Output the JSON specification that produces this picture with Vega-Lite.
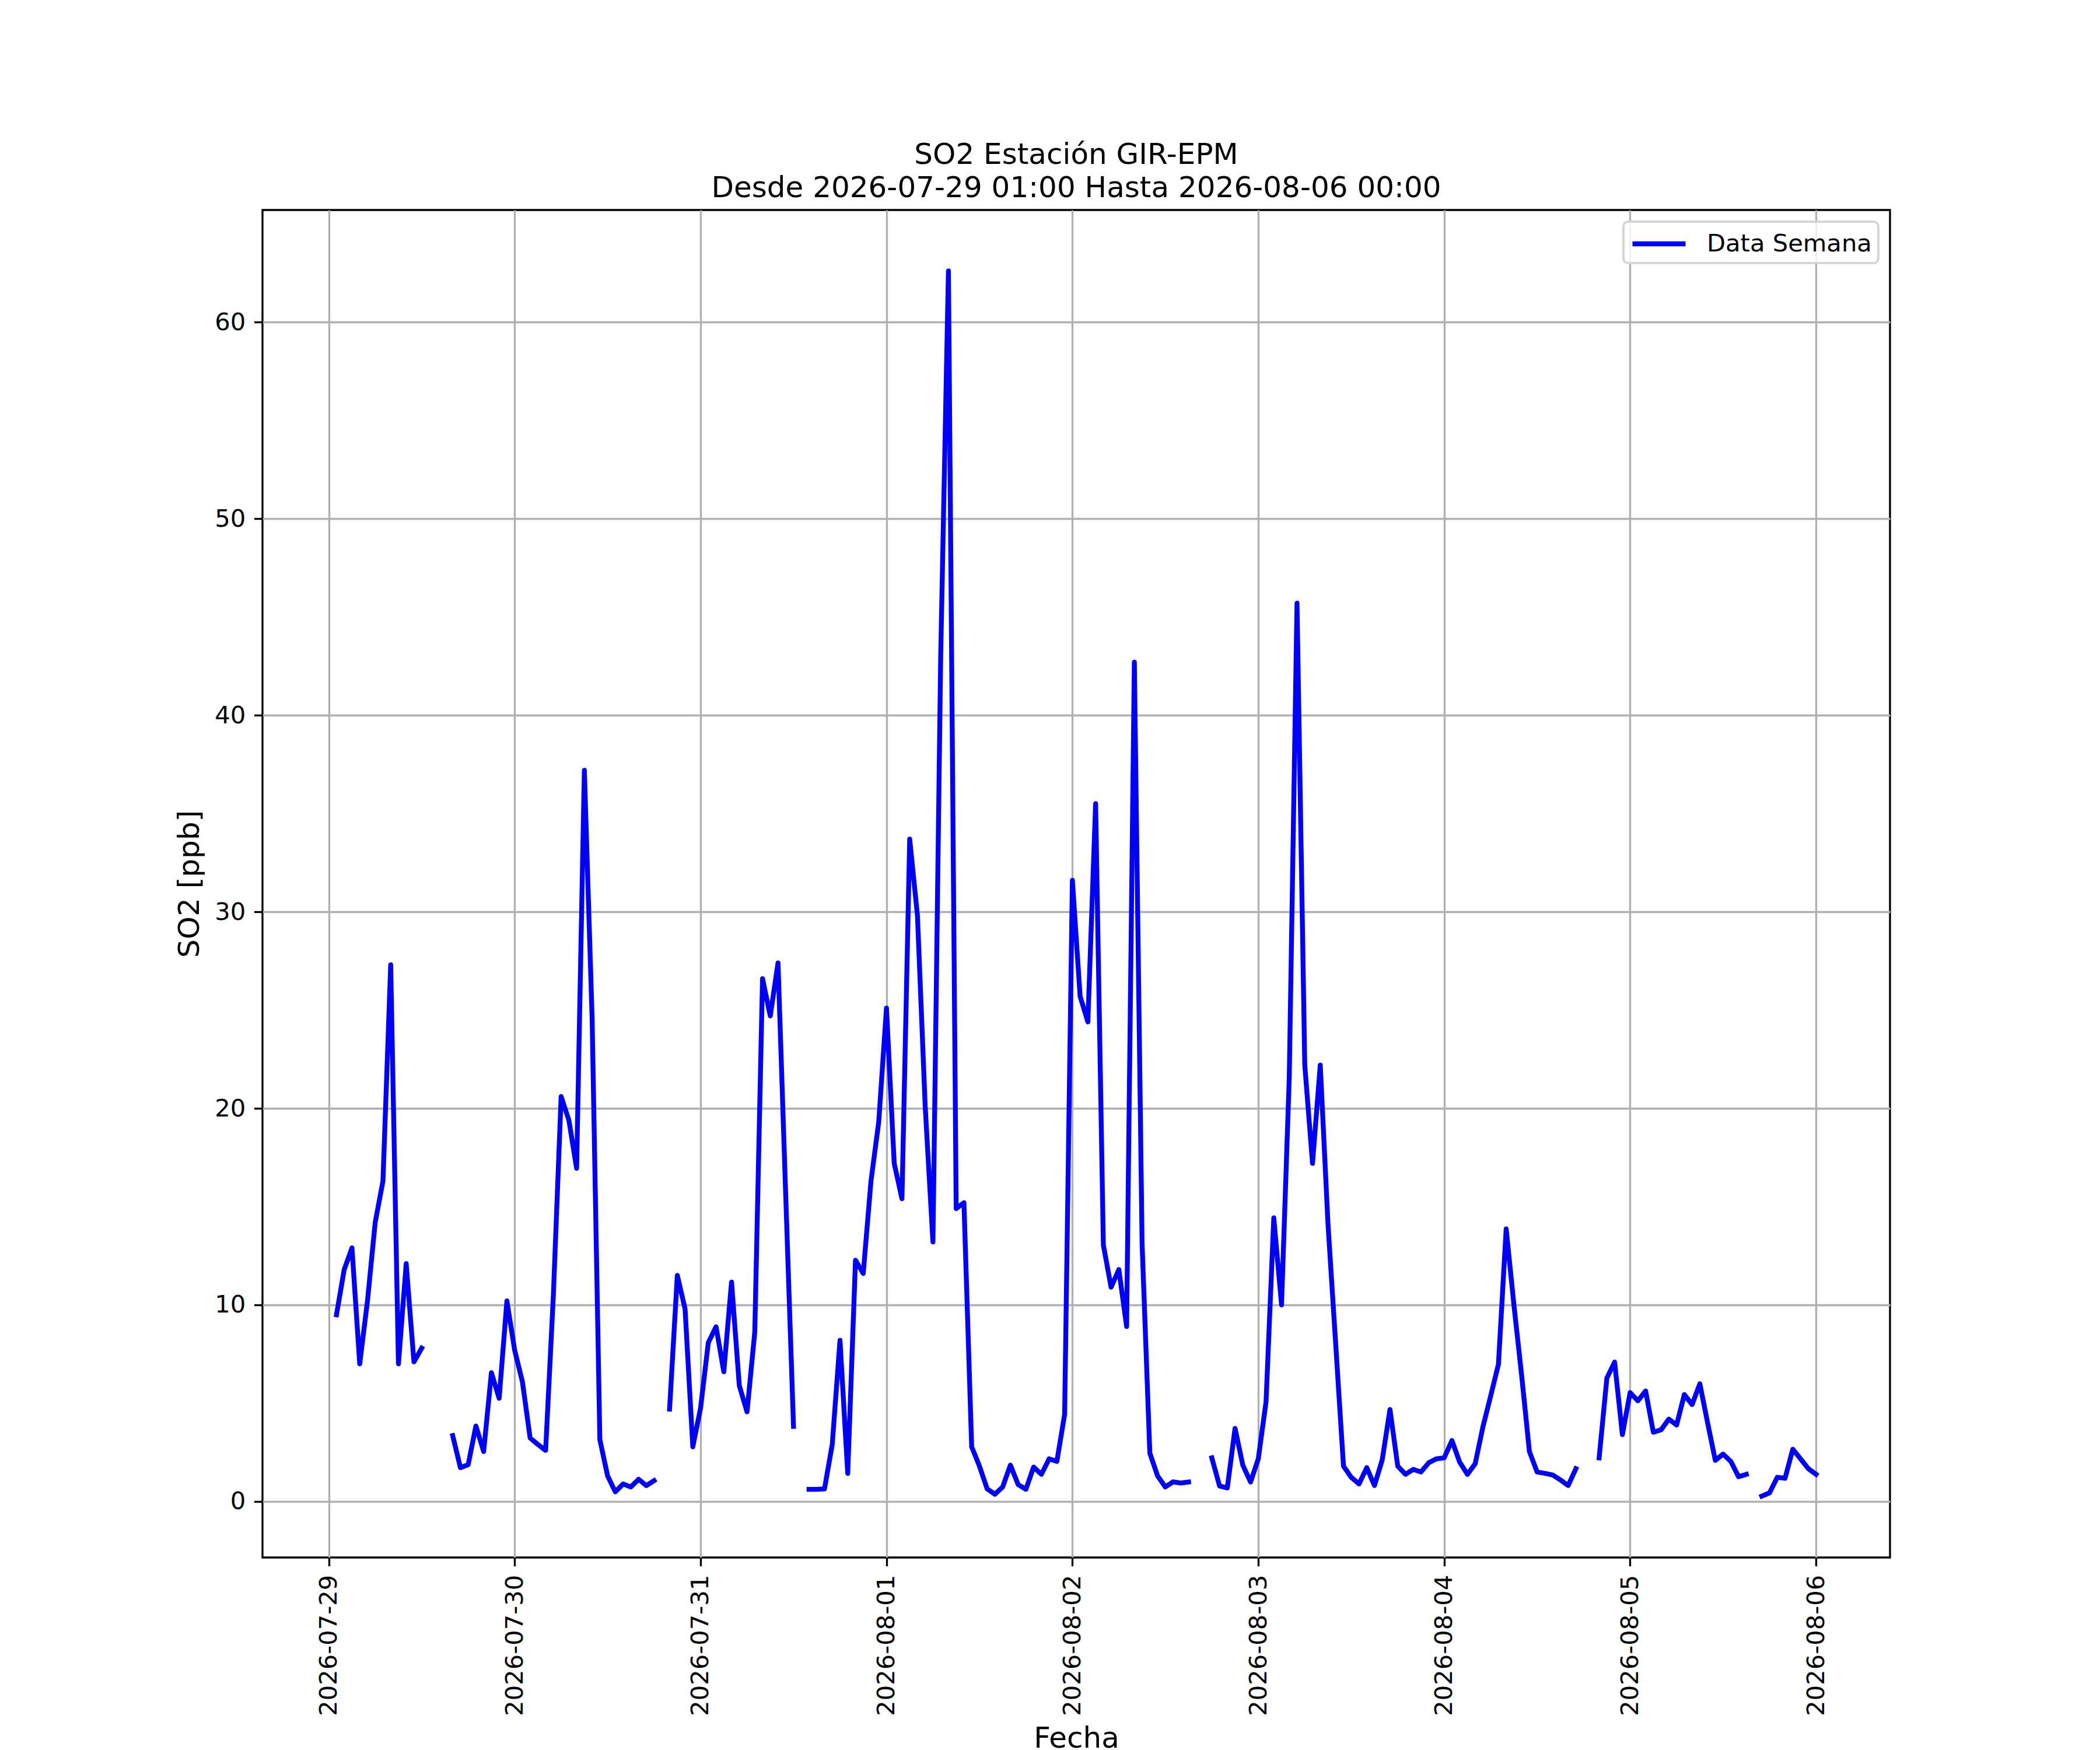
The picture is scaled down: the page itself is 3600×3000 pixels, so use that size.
{
  "$schema": "https://vega.github.io/schema/vega-lite/v6.json",
  "width": 2790,
  "height": 2310,
  "autosize": {"type": "none"},
  "padding": {"left": 450, "top": 360, "right": 360, "bottom": 330},
  "background": "#ffffff",
  "config": {
    "view": {"stroke": "#000000", "strokeWidth": 3.33},
    "font": "DejaVu Sans",
    "legend": {"strokeWidth": 4}
  },
  "title": {
    "text": ["SO2 Estación GIR-EPM", "Desde 2026-07-29 01:00 Hasta 2026-08-06 00:00"],
    "font": "DejaVu Sans",
    "fontSize": 50,
    "fontWeight": "normal",
    "color": "#000000",
    "lineHeight": 57,
    "anchor": "middle",
    "frame": "group",
    "baseline": "bottom",
    "offset": -38
  },
  "data": {
    "values": [
      {"fecha": "2026-07-29T01:00", "so2": 9.5},
      {"fecha": "2026-07-29T02:00", "so2": 11.8},
      {"fecha": "2026-07-29T03:00", "so2": 12.9},
      {"fecha": "2026-07-29T04:00", "so2": 7.0},
      {"fecha": "2026-07-29T05:00", "so2": 10.2},
      {"fecha": "2026-07-29T06:00", "so2": 14.2},
      {"fecha": "2026-07-29T07:00", "so2": 16.3},
      {"fecha": "2026-07-29T08:00", "so2": 27.3},
      {"fecha": "2026-07-29T09:00", "so2": 7.0},
      {"fecha": "2026-07-29T10:00", "so2": 12.1},
      {"fecha": "2026-07-29T11:00", "so2": 7.1},
      {"fecha": "2026-07-29T12:00", "so2": 7.8},
      {"fecha": "2026-07-29T13:00", "so2": null},
      {"fecha": "2026-07-29T14:00", "so2": null},
      {"fecha": "2026-07-29T15:00", "so2": null},
      {"fecha": "2026-07-29T16:00", "so2": 3.35},
      {"fecha": "2026-07-29T17:00", "so2": 1.72},
      {"fecha": "2026-07-29T18:00", "so2": 1.87},
      {"fecha": "2026-07-29T19:00", "so2": 3.84},
      {"fecha": "2026-07-29T20:00", "so2": 2.54},
      {"fecha": "2026-07-29T21:00", "so2": 6.55},
      {"fecha": "2026-07-29T22:00", "so2": 5.25},
      {"fecha": "2026-07-29T23:00", "so2": 10.2},
      {"fecha": "2026-07-30T00:00", "so2": 7.7},
      {"fecha": "2026-07-30T01:00", "so2": 6.1},
      {"fecha": "2026-07-30T02:00", "so2": 3.23},
      {"fecha": "2026-07-30T03:00", "so2": 2.9},
      {"fecha": "2026-07-30T04:00", "so2": 2.6},
      {"fecha": "2026-07-30T05:00", "so2": 10.5},
      {"fecha": "2026-07-30T06:00", "so2": 20.6},
      {"fecha": "2026-07-30T07:00", "so2": 19.4},
      {"fecha": "2026-07-30T08:00", "so2": 16.95},
      {"fecha": "2026-07-30T09:00", "so2": 37.2},
      {"fecha": "2026-07-30T10:00", "so2": 24.6},
      {"fecha": "2026-07-30T11:00", "so2": 3.15},
      {"fecha": "2026-07-30T12:00", "so2": 1.3},
      {"fecha": "2026-07-30T13:00", "so2": 0.49},
      {"fecha": "2026-07-30T14:00", "so2": 0.89},
      {"fecha": "2026-07-30T15:00", "so2": 0.74},
      {"fecha": "2026-07-30T16:00", "so2": 1.13},
      {"fecha": "2026-07-30T17:00", "so2": 0.81},
      {"fecha": "2026-07-30T18:00", "so2": 1.06},
      {"fecha": "2026-07-30T19:00", "so2": null},
      {"fecha": "2026-07-30T20:00", "so2": 4.7},
      {"fecha": "2026-07-30T21:00", "so2": 11.5},
      {"fecha": "2026-07-30T22:00", "so2": 9.8},
      {"fecha": "2026-07-30T23:00", "so2": 2.78},
      {"fecha": "2026-07-31T00:00", "so2": 4.75},
      {"fecha": "2026-07-31T01:00", "so2": 8.08},
      {"fecha": "2026-07-31T02:00", "so2": 8.89},
      {"fecha": "2026-07-31T03:00", "so2": 6.6},
      {"fecha": "2026-07-31T04:00", "so2": 11.16},
      {"fecha": "2026-07-31T05:00", "so2": 5.9},
      {"fecha": "2026-07-31T06:00", "so2": 4.56},
      {"fecha": "2026-07-31T07:00", "so2": 8.62},
      {"fecha": "2026-07-31T08:00", "so2": 26.6},
      {"fecha": "2026-07-31T09:00", "so2": 24.7},
      {"fecha": "2026-07-31T10:00", "so2": 27.4},
      {"fecha": "2026-07-31T11:00", "so2": 15.5},
      {"fecha": "2026-07-31T12:00", "so2": 3.82},
      {"fecha": "2026-07-31T13:00", "so2": null},
      {"fecha": "2026-07-31T14:00", "so2": 0.62},
      {"fecha": "2026-07-31T15:00", "so2": 0.62},
      {"fecha": "2026-07-31T16:00", "so2": 0.64},
      {"fecha": "2026-07-31T17:00", "so2": 2.9},
      {"fecha": "2026-07-31T18:00", "so2": 8.2},
      {"fecha": "2026-07-31T19:00", "so2": 1.43},
      {"fecha": "2026-07-31T20:00", "so2": 12.27},
      {"fecha": "2026-07-31T21:00", "so2": 11.6},
      {"fecha": "2026-07-31T22:00", "so2": 16.3},
      {"fecha": "2026-07-31T23:00", "so2": 19.3},
      {"fecha": "2026-08-01T00:00", "so2": 25.1},
      {"fecha": "2026-08-01T01:00", "so2": 17.2},
      {"fecha": "2026-08-01T02:00", "so2": 15.4},
      {"fecha": "2026-08-01T03:00", "so2": 33.7},
      {"fecha": "2026-08-01T04:00", "so2": 29.8},
      {"fecha": "2026-08-01T05:00", "so2": 20.1},
      {"fecha": "2026-08-01T06:00", "so2": 13.2},
      {"fecha": "2026-08-01T07:00", "so2": 43.0},
      {"fecha": "2026-08-01T08:00", "so2": 62.6},
      {"fecha": "2026-08-01T09:00", "so2": 14.9},
      {"fecha": "2026-08-01T10:00", "so2": 15.2},
      {"fecha": "2026-08-01T11:00", "so2": 2.78},
      {"fecha": "2026-08-01T12:00", "so2": 1.8},
      {"fecha": "2026-08-01T13:00", "so2": 0.64},
      {"fecha": "2026-08-01T14:00", "so2": 0.37},
      {"fecha": "2026-08-01T15:00", "so2": 0.74},
      {"fecha": "2026-08-01T16:00", "so2": 1.85},
      {"fecha": "2026-08-01T17:00", "so2": 0.86},
      {"fecha": "2026-08-01T18:00", "so2": 0.62},
      {"fecha": "2026-08-01T19:00", "so2": 1.75},
      {"fecha": "2026-08-01T20:00", "so2": 1.38},
      {"fecha": "2026-08-01T21:00", "so2": 2.17},
      {"fecha": "2026-08-01T22:00", "so2": 2.04},
      {"fecha": "2026-08-01T23:00", "so2": 4.43},
      {"fecha": "2026-08-02T00:00", "so2": 31.6},
      {"fecha": "2026-08-02T01:00", "so2": 25.7},
      {"fecha": "2026-08-02T02:00", "so2": 24.4},
      {"fecha": "2026-08-02T03:00", "so2": 35.5},
      {"fecha": "2026-08-02T04:00", "so2": 13.05},
      {"fecha": "2026-08-02T05:00", "so2": 10.9},
      {"fecha": "2026-08-02T06:00", "so2": 11.8},
      {"fecha": "2026-08-02T07:00", "so2": 8.9},
      {"fecha": "2026-08-02T08:00", "so2": 42.7},
      {"fecha": "2026-08-02T09:00", "so2": 13.1},
      {"fecha": "2026-08-02T10:00", "so2": 2.46},
      {"fecha": "2026-08-02T11:00", "so2": 1.3},
      {"fecha": "2026-08-02T12:00", "so2": 0.74},
      {"fecha": "2026-08-02T13:00", "so2": 1.0},
      {"fecha": "2026-08-02T14:00", "so2": 0.94},
      {"fecha": "2026-08-02T15:00", "so2": 0.99},
      {"fecha": "2026-08-02T16:00", "so2": null},
      {"fecha": "2026-08-02T17:00", "so2": null},
      {"fecha": "2026-08-02T18:00", "so2": 2.22},
      {"fecha": "2026-08-02T19:00", "so2": 0.79},
      {"fecha": "2026-08-02T20:00", "so2": 0.69},
      {"fecha": "2026-08-02T21:00", "so2": 3.72},
      {"fecha": "2026-08-02T22:00", "so2": 1.85},
      {"fecha": "2026-08-02T23:00", "so2": 0.99},
      {"fecha": "2026-08-03T00:00", "so2": 2.17},
      {"fecha": "2026-08-03T01:00", "so2": 5.07},
      {"fecha": "2026-08-03T02:00", "so2": 14.43},
      {"fecha": "2026-08-03T03:00", "so2": 10.0},
      {"fecha": "2026-08-03T04:00", "so2": 21.6},
      {"fecha": "2026-08-03T05:00", "so2": 45.7},
      {"fecha": "2026-08-03T06:00", "so2": 22.2},
      {"fecha": "2026-08-03T07:00", "so2": 17.2},
      {"fecha": "2026-08-03T08:00", "so2": 22.2},
      {"fecha": "2026-08-03T09:00", "so2": 14.1},
      {"fecha": "2026-08-03T10:00", "so2": 7.96},
      {"fecha": "2026-08-03T11:00", "so2": 1.8},
      {"fecha": "2026-08-03T12:00", "so2": 1.23},
      {"fecha": "2026-08-03T13:00", "so2": 0.89},
      {"fecha": "2026-08-03T14:00", "so2": 1.72},
      {"fecha": "2026-08-03T15:00", "so2": 0.81},
      {"fecha": "2026-08-03T16:00", "so2": 2.12},
      {"fecha": "2026-08-03T17:00", "so2": 4.68},
      {"fecha": "2026-08-03T18:00", "so2": 1.8},
      {"fecha": "2026-08-03T19:00", "so2": 1.38},
      {"fecha": "2026-08-03T20:00", "so2": 1.63},
      {"fecha": "2026-08-03T21:00", "so2": 1.5},
      {"fecha": "2026-08-03T22:00", "so2": 1.97},
      {"fecha": "2026-08-03T23:00", "so2": 2.17},
      {"fecha": "2026-08-04T00:00", "so2": 2.22},
      {"fecha": "2026-08-04T01:00", "so2": 3.1},
      {"fecha": "2026-08-04T02:00", "so2": 2.0},
      {"fecha": "2026-08-04T03:00", "so2": 1.38},
      {"fecha": "2026-08-04T04:00", "so2": 1.92},
      {"fecha": "2026-08-04T05:00", "so2": 3.8},
      {"fecha": "2026-08-04T06:00", "so2": 5.37},
      {"fecha": "2026-08-04T07:00", "so2": 6.97},
      {"fecha": "2026-08-04T08:00", "so2": 13.87},
      {"fecha": "2026-08-04T09:00", "so2": 10.0},
      {"fecha": "2026-08-04T10:00", "so2": 6.4},
      {"fecha": "2026-08-04T11:00", "so2": 2.54},
      {"fecha": "2026-08-04T12:00", "so2": 1.5},
      {"fecha": "2026-08-04T13:00", "so2": 1.43},
      {"fecha": "2026-08-04T14:00", "so2": 1.35},
      {"fecha": "2026-08-04T15:00", "so2": 1.1},
      {"fecha": "2026-08-04T16:00", "so2": 0.81},
      {"fecha": "2026-08-04T17:00", "so2": 1.67},
      {"fecha": "2026-08-04T18:00", "so2": null},
      {"fecha": "2026-08-04T19:00", "so2": null},
      {"fecha": "2026-08-04T20:00", "so2": 2.22},
      {"fecha": "2026-08-04T21:00", "so2": 6.28},
      {"fecha": "2026-08-04T22:00", "so2": 7.09},
      {"fecha": "2026-08-04T23:00", "so2": 3.4},
      {"fecha": "2026-08-05T00:00", "so2": 5.54},
      {"fecha": "2026-08-05T01:00", "so2": 5.12},
      {"fecha": "2026-08-05T02:00", "so2": 5.62},
      {"fecha": "2026-08-05T03:00", "so2": 3.52},
      {"fecha": "2026-08-05T04:00", "so2": 3.65},
      {"fecha": "2026-08-05T05:00", "so2": 4.19},
      {"fecha": "2026-08-05T06:00", "so2": 3.89},
      {"fecha": "2026-08-05T07:00", "so2": 5.44},
      {"fecha": "2026-08-05T08:00", "so2": 4.93},
      {"fecha": "2026-08-05T09:00", "so2": 5.99},
      {"fecha": "2026-08-05T10:00", "so2": 4.01},
      {"fecha": "2026-08-05T11:00", "so2": 2.09},
      {"fecha": "2026-08-05T12:00", "so2": 2.41},
      {"fecha": "2026-08-05T13:00", "so2": 2.04},
      {"fecha": "2026-08-05T14:00", "so2": 1.26},
      {"fecha": "2026-08-05T15:00", "so2": 1.38},
      {"fecha": "2026-08-05T16:00", "so2": null},
      {"fecha": "2026-08-05T17:00", "so2": 0.27},
      {"fecha": "2026-08-05T18:00", "so2": 0.44},
      {"fecha": "2026-08-05T19:00", "so2": 1.23},
      {"fecha": "2026-08-05T20:00", "so2": 1.18},
      {"fecha": "2026-08-05T21:00", "so2": 2.66},
      {"fecha": "2026-08-05T22:00", "so2": 2.17},
      {"fecha": "2026-08-05T23:00", "so2": 1.67},
      {"fecha": "2026-08-06T00:00", "so2": 1.38}
    ]
  },
  "mark": {
    "type": "line",
    "strokeWidth": 8.33,
    "strokeJoin": "round",
    "strokeCap": "square",
    "clip": true,
    "invalid": "break-paths-show-domains"
  },
  "encoding": {
    "x": {
      "field": "fecha",
      "type": "temporal",
      "scale": {
        "domain": [
          {"year": 2026, "month": 7, "date": 28, "hours": 15, "minutes": 27},
          {"year": 2026, "month": 8, "date": 6, "hours": 9, "minutes": 33}
        ],
        "nice": false
      },
      "axis": {
        "title": "Fecha",
        "titleFont": "DejaVu Sans",
        "titleFontSize": 50,
        "titleFontWeight": "normal",
        "titleColor": "#000000",
        "titleBaseline": "alphabetic",
        "titleY": 325,
        "values": [
          {"year": 2026, "month": 7, "date": 29},
          {"year": 2026, "month": 7, "date": 30},
          {"year": 2026, "month": 7, "date": 31},
          {"year": 2026, "month": 8, "date": 1},
          {"year": 2026, "month": 8, "date": 2},
          {"year": 2026, "month": 8, "date": 3},
          {"year": 2026, "month": 8, "date": 4},
          {"year": 2026, "month": 8, "date": 5},
          {"year": 2026, "month": 8, "date": 6}
        ],
        "format": "%Y-%m-%d",
        "labelAngle": 270,
        "labelFont": "DejaVu Sans",
        "labelFontSize": 41.67,
        "labelColor": "#000000",
        "labelPadding": 14.6,
        "labelLimit": 1000,
        "labelOverlap": false,
        "labelFlush": false,
        "tickSize": 14.6,
        "tickWidth": 3.33,
        "tickColor": "#000000",
        "domain": false,
        "grid": true,
        "gridColor": "#b0b0b0",
        "gridWidth": 3.33
      }
    },
    "y": {
      "field": "so2",
      "type": "quantitative",
      "scale": {"domain": [-2.85, 65.7], "nice": false, "zero": false},
      "axis": {
        "title": "SO2 [ppb]",
        "titleFont": "DejaVu Sans",
        "titleFontSize": 50,
        "titleFontWeight": "normal",
        "titleColor": "#000000",
        "titlePadding": 17,
        "values": [0, 10, 20, 30, 40, 50, 60],
        "labelFont": "DejaVu Sans",
        "labelFontSize": 41.67,
        "labelColor": "#000000",
        "labelPadding": 14.6,
        "labelFlush": false,
        "tickSize": 14.6,
        "tickWidth": 3.33,
        "tickColor": "#000000",
        "domain": false,
        "grid": true,
        "gridColor": "#b0b0b0",
        "gridWidth": 3.33
      }
    },
    "color": {
      "datum": "Data Semana",
      "type": "nominal",
      "scale": {"range": ["#0000ff"]},
      "legend": {
        "title": null,
        "orient": "top-right",
        "offset": 20,
        "padding": 11,
        "cornerRadius": 8,
        "fillColor": "rgba(255,255,255,0.8)",
        "strokeColor": "#d5d5d5",
        "symbolType": "M-2,0H2",
        "symbolSize": 2070,
        "symbolStrokeWidth": 8.33,
        "symbolOffset": 23,
        "labelFont": "DejaVu Sans",
        "labelFontSize": 41.67,
        "labelColor": "#000000",
        "labelOffset": 55,
        "labelLimit": 1000
      }
    }
  }
}
